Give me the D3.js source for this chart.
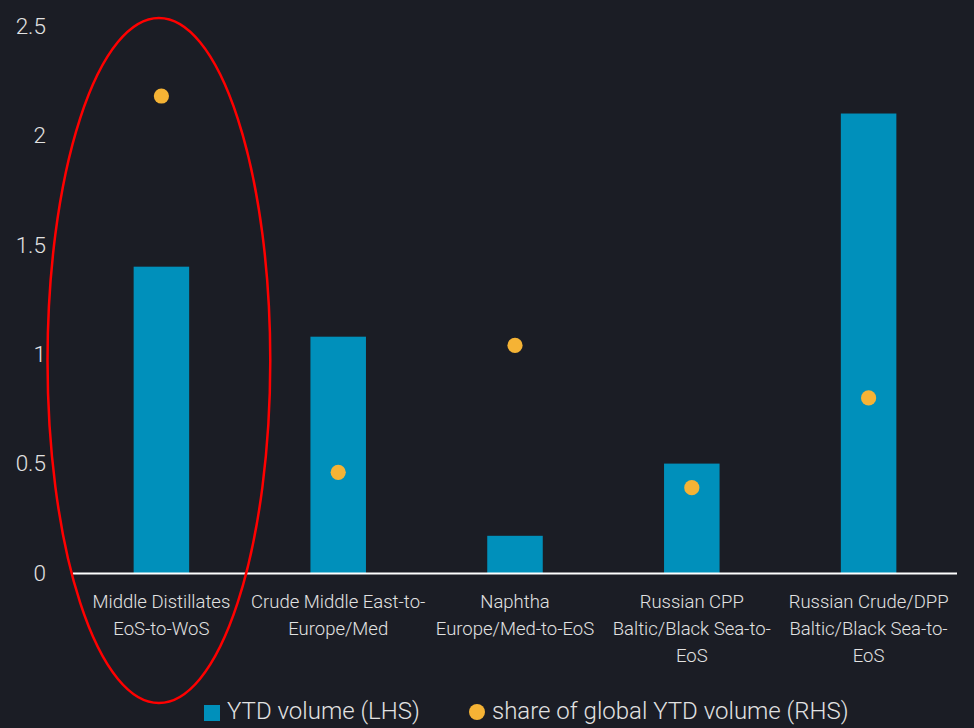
<!DOCTYPE html>
<html>
<head>
<meta charset="utf-8">
<script src="https://cdn.jsdelivr.net/npm/d3@7"></script>
<style>
  html, body { margin: 0; padding: 0; background: #1b1d25; }
  svg { display: block; }
  text { font-family: Roboto, "Open Sans", sans-serif; font-weight: 300; fill: #e2e2e2; }
</style>
</head>
<body>
<svg id="chart" width="974" height="728"></svg>
<script>
const categories = [
  ["Middle Distillates", "EoS-to-WoS"],
  ["Crude Middle East-to-", "Europe/Med"],
  ["Naphtha", "Europe/Med-to-EoS"],
  ["Russian CPP", "Baltic/Black Sea-to-", "EoS"],
  ["Russian Crude/DPP", "Baltic/Black Sea-to-", "EoS"]
];
const ytdVolume = [1.40, 1.08, 0.17, 0.50, 2.10];
const globalShare = [21.8, 4.6, 10.4, 3.9, 8.0];
const leftTicks = [0, 0.5, 1, 1.5, 2, 2.5];
const legendLabels = ["YTD volume (LHS)", "share of global YTD volume (RHS)"];

const W = 974, H = 728;
const margin = { left: 73, right: 17, top: 26, bottom: 155 };
const svg = d3.select("#chart");

const x = d3.scaleBand()
  .domain(d3.range(categories.length))
  .range([margin.left, W - margin.right])
  .paddingInner(0.686)
  .paddingOuter(0.343);

const y = d3.scaleLinear().domain([0, 2.5]).range([H - margin.bottom, margin.top]);
const y2 = d3.scaleLinear().domain([0, 25]).range([H - margin.bottom, margin.top]);

// left axis labels
const yAxis = d3.axisLeft(y).tickValues(leftTicks).tickSize(0).tickPadding(0)
  .tickFormat(d => String(d));
const gy = svg.append("g").attr("transform", `translate(46,0)`).call(yAxis);
gy.select(".domain").remove();
gy.selectAll("text").style("font-size", "22.5px").style("font-family", "Roboto").style("font-weight", 300).attr("fill", "#e2e2e2");

// bars
svg.append("g").selectAll("rect").data(ytdVolume).join("rect")
  .attr("x", (d, i) => x(i))
  .attr("width", x.bandwidth())
  .attr("y", d => y(d))
  .attr("height", d => y(0) - y(d))
  .attr("fill", "#0090bb");

// baseline
svg.append("line")
  .attr("x1", margin.left).attr("x2", W - margin.right)
  .attr("y1", y(0) + 0.5).attr("y2", y(0) + 0.5)
  .attr("stroke", "#ffffff").attr("stroke-width", 2);

// dots
svg.append("g").selectAll("circle").data(globalShare).join("circle")
  .attr("cx", (d, i) => x(i) + x.bandwidth() / 2)
  .attr("cy", d => y2(d))
  .attr("r", 7.6)
  .attr("fill", "#f5b335");

// category labels
const catG = svg.append("g").selectAll("text").data(categories).join("text")
  .attr("text-anchor", "middle")
  .attr("x", (d, i) => x(i) + x.bandwidth() / 2)
  .attr("y", y(0) + 35)
  .style("font-size", "18.5px");
catG.selectAll("tspan").data(d => d).join("tspan")
  .attr("x", function () { return d3.select(this.parentNode).attr("x"); })
  .attr("dy", (d, i) => i === 0 ? 0 : 27)
  .text(d => d);

// red ellipse annotation around first category
const c0 = x(0) + x.bandwidth() / 2;
svg.append("ellipse")
  .attr("cx", c0 - 2.5)
  .attr("cy", (y(2.5) - 8 + 703) / 2)
  .attr("rx", x.step() * 0.63)
  .attr("ry", (703 - (y(2.5) - 8)) / 2)
  .attr("fill", "none")
  .attr("stroke", "#ff0000")
  .attr("stroke-width", 2.5);

// legend
const lg = svg.append("g");
lg.append("rect").attr("x", 204).attr("y", 705).attr("width", 16).attr("height", 16).attr("fill", "#0090bb");
lg.append("text").attr("x", 227).attr("y", 719).style("font-size", "24px").text(legendLabels[0]);
lg.append("circle").attr("cx", 477).attr("cy", 712).attr("r", 8).attr("fill", "#f5b335");
lg.append("text").attr("x", 492).attr("y", 719).style("font-size", "24px").text(legendLabels[1]);
</script>
</body>
</html>
